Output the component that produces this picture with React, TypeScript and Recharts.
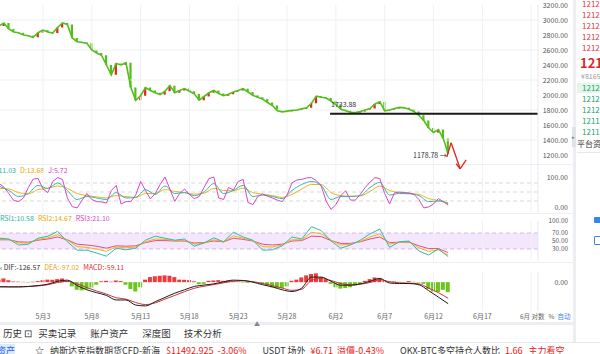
import React from 'react';
import { ComposedChart, LineChart, Line, Bar, XAxis, YAxis, ReferenceLine, ReferenceArea, Cell } from 'recharts';

// x axis: days counted from 5月3, half-day candles
const DATE_TICKS = [0, 5, 10, 15, 20, 25, 30, 35, 40, 45, 50];
const DATE_LABELS = ['5月3', '5月8', '5月13', '5月18', '5月23', '5月28', '6月2', '6月7', '6月12', '6月17', ''];
const X_DOMAIN: [number, number] = [-4.4, 50.7];
const HALF_DAYS = Array.from({ length: 93 }, (_, i) => -4.5 + i * 0.5);

const PRICE_TICKS = [1200, 1400, 1600, 1800, 2000, 2200, 2400, 2600, 2800, 3000, 3200];
const PRICE_GRID = [3000, 2600, 2200, 1800, 1400];
const SUPPORT = 1750;
const SUPPORT_FROM = 29.4;

const PRICE_CLOSE = [
  2920, 2960, 2880, 2840, 2830, 2800, 2790, 2770, 2830, 2865,
  2840, 2825, 2900, 2960, 2940, 2760, 2710, 2700, 2690, 2600,
  2560, 2530, 2400, 2270, 2420, 2400, 2430, 2100, 1930, 1990,
  2100, 2060, 2030, 2005, 2050, 2125, 2030, 2060, 2085, 2050,
  2015, 1930, 1980, 2030, 2060, 2020, 1990, 2010, 2040, 2060,
  2085, 2040, 1995, 1970, 1945, 1900, 1860, 1790, 1775, 1785,
  1795, 1800, 1815, 1830, 1890, 1985, 1970, 1960, 1920, 1870,
  1810, 1790, 1770, 1765, 1780, 1800, 1820, 1880, 1910, 1790,
  1800, 1820, 1835, 1830, 1810, 1780, 1730, 1660, 1560, 1500,
  1540, 1420, 1215,
];

// hand drawn red arrow (day, price)
const ARROW_PATH = [[41.36, 1171], [41.8, 1363], [42.73, 1016]];
const ARROW_HEAD = [[42.32, 1083], [42.73, 1016], [43.34, 1136]];

const KDJ_J = [
  79, 66, 45, 22, 18, 30, 65, 93, 95, 60,
  48, 85, 98, 92, 30, 1, -3, 22, 45, 25,
  18, 17, 13, 55, 72, 10, 18, 18, 40, 85,
  55, 27, 45, 75, 100, 60, 19, 45, 60, 42,
  28, 35, 65, 95, 100, 30, 25, 65, 57, 85,
  92, 15, 8, 35, 43, 36, 30, 23, 18, 40,
  80, 90, 92, 97, 98, 88, 70, 20, -8, 8,
  38, 54, 23, 23, 42, 65, 83, 98, 95, 45,
  10, 47, 50, 48, 47, 42, 25, -3, 0, 10,
  28, 18, 6,
];
// K and D are daily
const KDJ_K = [70, 55, 35, 45, 72, 62, 80, 55, 25, 35, 30, 25, 48, 30, 32, 58, 42, 70, 45, 48, 38, 50, 78, 45, 55, 72, 35, 40, 35, 28, 55, 75, 85, 72, 25, 35, 35, 38, 65, 82, 40, 45, 44, 38, 18, 20, 11];
const KDJ_D = [62, 60, 48, 44, 58, 62, 70, 62, 45, 38, 34, 30, 38, 35, 32, 45, 45, 58, 52, 48, 43, 46, 62, 55, 54, 63, 48, 43, 38, 32, 42, 60, 75, 75, 48, 38, 36, 37, 52, 70, 55, 48, 45, 42, 28, 22, 14];
const KDJ_LINES = [80, 50, 20];

const RSI1 = [57, 55, 40, 42, 57, 62, 74, 48, 27, 27, 20, 12, 32, 28, 32, 52, 62, 57, 52, 55, 37, 45, 58, 48, 72, 60, 52, 27, 28, 38, 60, 55, 86, 76, 50, 32, 40, 52, 68, 80, 34, 48, 50, 25, 15, 30, 11];
const RSI2 = [55, 54, 45, 45, 54, 58, 66, 52, 36, 34, 30, 24, 35, 33, 35, 48, 55, 54, 51, 52, 42, 45, 53, 48, 63, 57, 51, 36, 35, 40, 53, 53, 72, 68, 52, 40, 42, 49, 60, 68, 42, 47, 48, 33, 24, 28, 15];
const RSI3 = [53, 53, 48, 47, 52, 55, 60, 53, 42, 40, 37, 32, 38, 37, 38, 46, 51, 51, 50, 50, 45, 46, 50, 48, 57, 54, 50, 42, 40, 42, 50, 51, 62, 61, 51, 44, 44, 48, 55, 60, 46, 47, 47, 38, 31, 31, 21];

const MACD_HIST = [
  15, 22, 12, 4, 3, 2, -3, 2, 6, 12,
  15, 14, 18, 22, 8, -25, -45, -48, -40, -32,
  -15, 5, 8, 3, 10, 6, -15, -40, -55, -30,
  15, 30, 35, 38, 40, 38, 30, 15, 14, 12,
  5, -12, -10, 8, 10, 12, 8, 10, 6, 3,
  -3, -5, 2, -3, -10, -20, -30, -35, -35, -25,
  8, 15, 28, 40, 48, 52, 30, 18, -10, -30,
  -38, -35, -30, -20, -12, 8, 18, 28, 25, 6,
  3, 4, 2, -2, 6, 2, -3, -10, -40, -55,
  -58, -45, -59,
];
const DIF = [-28, -28, -28, -25, -20, -12, 5, 12, -20, -45, -62, -78, -105, -105, -135, -140, -115, -90, -65, -45, -25, -17, -10, 2, 12, 10, 0, -15, -28, -45, -55, -35, 30, 30, 5, -18, -18, -10, 5, 22, -5, -8, -8, -15, -50, -88, -127];
const DEA = [-25, -27, -27, -26, -22, -15, -2, 5, -10, -32, -52, -70, -92, -100, -120, -132, -122, -100, -78, -56, -36, -24, -14, -4, 6, 8, 3, -8, -20, -35, -48, -42, 10, 22, 10, -8, -15, -12, -2, 14, 3, -4, -6, -10, -35, -62, -95];

const ASKS = ['1212.7', '1212.5', '1212.4', '1212.3', '1212.3'];
const BIDS = ['1212.2', '1212.1', '1212.0', '1211.8', '1211.7'];

const RED = '#e5231b';
const GREEN = '#52bf1a';
const GRID = '#eef1f5';
const FONT = '"Noto Sans CJK SC", "Noto Sans", sans-serif';

const priceRows = HALF_DAYS.map((d, i) => {
  const c = PRICE_CLOSE[i];
  const o = i > 0 ? PRICE_CLOSE[i - 1] : c;
  return { d, close: c, body: [Math.min(o, c), Math.max(o, c)], up: c >= o };
});
const daily = (arr: number[], i: number) => (i % 2 === 0 ? arr[i / 2] : undefined);
const kdjRows = HALF_DAYS.map((d, i) => ({ d, j: KDJ_J[i], k: daily(KDJ_K, i), dd: daily(KDJ_D, i) }));
const rsiRows = HALF_DAYS.filter((_, i) => i % 2 === 0).map((d, i) => ({ d, r1: RSI1[i], r2: RSI2[i], r3: RSI3[i] }));
const macdRows = HALF_DAYS.map((d, i) => ({ d, hist: MACD_HIST[i], dif: daily(DIF, i), dea: daily(DEA, i) }));

const Candle = (p: any) => {
  const { x, y, width, height, payload } = p;
  if (x == null || y == null) return null;
  const top = height < 0 ? y + height : y;
  const h = Math.max(Math.abs(height || 0), 1);
  return <rect x={x + width / 2 - 1} y={top} width={2.2} height={h} fill={payload.up ? RED : GREEN} />;
};

const RightTick = (p: any) => (
  <text x={568} y={p.y} dy={2.5} textAnchor="end" fontSize={7} fill="#555" fontFamily={FONT}>
    {Number(p.payload.value).toFixed(2)}
  </text>
);
const SmallTick = (p: any) => (
  <text x={568} y={p.y} dy={2.2} textAnchor="end" fontSize={6.4} fill="#555" fontFamily={FONT}>
    {Number(p.payload.value).toFixed(2)}
  </text>
);

const DateTick = (p: any) => {
  const idx = DATE_TICKS.indexOf(p.payload.value);
  return (
    <text x={p.x} y={p.y} dy={0} textAnchor="middle" fontSize={7} fill="#666" fontFamily={FONT}>
      {DATE_LABELS[idx]}
    </text>
  );
};

const vGrid = () => DATE_TICKS.map(t => <ReferenceLine key={'g' + t} x={t} stroke={GRID} ifOverflow="hidden" />);

const abs = (left: number, top: number): React.CSSProperties => ({ position: 'absolute', left, top });

export default function App() {
  const segs = (pts: number[][], key: string) =>
    pts.slice(1).map((pt, i) => (
      <ReferenceLine
        key={key + i}
        segment={[{ x: pts[i][0], y: pts[i][1] }, { x: pt[0], y: pt[1] }]}
        stroke={RED}
        strokeWidth={1.3}
        ifOverflow="visible"
      />
    ));

  return (
    <div style={{ position: 'absolute', left: 0, top: 0, width: 600, height: 354, overflow: 'hidden', background: '#fff', fontFamily: FONT }}>
      {/* panel separators */}
      {[164, 213, 262].map(y => (
        <div key={y} style={{ ...abs(0, y), width: 573, height: 1, background: '#edf0f3' }} />
      ))}

      {/* price panel */}
      <div style={abs(0, 0)}>
        <ComposedChart width={580} height={170} data={priceRows} margin={{ top: 5, right: 0, bottom: 0, left: 0 }}>
          <XAxis dataKey="d" type="number" domain={X_DOMAIN} ticks={DATE_TICKS} allowDataOverflow hide />
          <YAxis orientation="right" width={42} domain={[1000, 3200]} ticks={PRICE_TICKS} interval={0} allowDataOverflow tick={RightTick} tickLine={false} axisLine={{ stroke: '#e6e9ee' }} />
          {vGrid()}
          {PRICE_GRID.map(v => <ReferenceLine key={v} y={v} stroke={GRID} />)}
          <Line dataKey="close" stroke={GREEN} strokeWidth={1.6} dot={false} isAnimationActive={false} />
          <Bar dataKey="body" barSize={2} shape={Candle} isAnimationActive={false} />
          <ReferenceLine segment={[{ x: SUPPORT_FROM, y: SUPPORT }, { x: X_DOMAIN[1], y: SUPPORT }]} stroke="#1a1a1a" strokeWidth={2} />
          {segs(ARROW_PATH, 'a')}
          {segs(ARROW_HEAD, 'h')}
        </ComposedChart>
      </div>
      <span style={{ ...abs(331, 99), fontSize: 7, color: '#333' }}>1733.88</span>
      <span style={{ ...abs(413, 150), fontSize: 7, color: '#333' }}>1178.78 →</span>

      {/* KDJ */}
      <div style={{ ...abs(-8, 165), fontSize: 7, whiteSpace: 'nowrap', lineHeight: '10px' }}>
        <span style={{ color: '#22b5a5' }}>K:11.03</span>
        <span style={{ color: '#f0a500', marginLeft: 4 }}>D:13.68</span>
        <span style={{ color: '#d63fc6', marginLeft: 4 }}>J:5.72</span>
      </div>
      <div style={abs(0, 171)}>
        <LineChart width={580} height={42} data={kdjRows} margin={{ top: 0, right: 0, bottom: 0, left: 0 }}>
          <XAxis dataKey="d" type="number" domain={X_DOMAIN} ticks={DATE_TICKS} allowDataOverflow hide />
          <YAxis orientation="right" width={42} domain={[-20, 120]} ticks={[0, 100]} interval={0} allowDataOverflow tick={RightTick} tickLine={false} axisLine={{ stroke: '#e6e9ee' }} />
          {vGrid()}
          {KDJ_LINES.map(v => <ReferenceLine key={v} y={v} stroke="#d9d9d9" strokeDasharray="4 3" />)}
          <Line dataKey="dd" stroke="#f2b21c" strokeWidth={1} dot={false} connectNulls type="monotone" isAnimationActive={false} />
          <Line dataKey="k" stroke="#2dbdaa" strokeWidth={1} dot={false} connectNulls type="monotone" isAnimationActive={false} />
          <Line dataKey="j" stroke="#d946c8" strokeWidth={1} dot={false} isAnimationActive={false} />
        </LineChart>
      </div>

      {/* RSI */}
      <div style={{ ...abs(0, 213), fontSize: 7, whiteSpace: 'nowrap', lineHeight: '10px' }}>
        <span style={{ color: '#22b5a5' }}>RSI1:10.58</span>
        <span style={{ color: '#f0a500', marginLeft: 4 }}>RSI2:14.67</span>
        <span style={{ color: '#d63fc6', marginLeft: 4 }}>RSI3:21.10</span>
      </div>
      <div style={abs(0, 214)}>
        <LineChart width={580} height={48} data={rsiRows} margin={{ top: 7, right: 0, bottom: 1, left: 0 }}>
          <XAxis dataKey="d" type="number" domain={X_DOMAIN} ticks={DATE_TICKS} allowDataOverflow hide />
          <YAxis orientation="right" width={42} domain={[0, 100]} ticks={[30, 50, 70, 100]} interval={0} allowDataOverflow tick={SmallTick} tickLine={false} axisLine={{ stroke: '#e6e9ee' }} />
          <ReferenceArea y1={30} y2={70} fill="#f4e6fb" fillOpacity={1} stroke="none" />
          {vGrid()}
          <ReferenceLine y={70} stroke="#d7b7e6" strokeDasharray="4 3" />
          <ReferenceLine y={30} stroke="#d7b7e6" strokeDasharray="4 3" />
          <Line dataKey="r3" stroke="#e2507e" strokeWidth={1} dot={false} isAnimationActive={false} />
          <Line dataKey="r2" stroke="#f2b21c" strokeWidth={1} dot={false} isAnimationActive={false} />
          <Line dataKey="r1" stroke="#2dbdaa" strokeWidth={1} dot={false} isAnimationActive={false} />
        </LineChart>
      </div>

      {/* MACD */}
      <div style={{ ...abs(0, 262), fontSize: 7, whiteSpace: 'nowrap', lineHeight: '10px' }}>
        <span style={{ color: '#333' }}>‹ DIF:-126.57</span>
        <span style={{ color: '#f0a020', marginLeft: 4 }}>DEA:-97.02</span>
        <span style={{ color: '#e03030', marginLeft: 4 }}>MACD:-59.11</span>
      </div>
      <div style={abs(0, 272)}>
        <ComposedChart width={580} height={51} data={macdRows} margin={{ top: 0, right: 0, bottom: 0, left: 0 }}>
          <XAxis dataKey="d" type="number" domain={X_DOMAIN} ticks={DATE_TICKS} interval={0} allowDataOverflow height={12} tick={DateTick} tickLine={false} axisLine={false} />
          <YAxis orientation="right" width={42} domain={[-170, 60]} ticks={[0]} interval={0} allowDataOverflow tick={RightTick} tickLine={false} axisLine={{ stroke: '#e6e9ee' }} />
          {vGrid()}
          <Bar dataKey="hist" barSize={4} isAnimationActive={false}>
            {macdRows.map((r, i) => <Cell key={i} fill={r.hist >= 0 ? '#ee3a3a' : '#6cc51c'} />)}
          </Bar>
          <Line dataKey="dea" stroke="#c9343c" strokeWidth={1} dot={false} connectNulls type="monotone" isAnimationActive={false} />
          <Line dataKey="dif" stroke="#1c1c1c" strokeWidth={1} dot={false} connectNulls type="monotone" isAnimationActive={false} />
        </ComposedChart>
      </div>
      <div style={{ ...abs(520, 311), fontSize: 6.5, whiteSpace: 'nowrap', lineHeight: '10px', color: '#666' }}>
        6月 对数<span style={{ marginLeft: 4 }}>%</span><span style={{ marginLeft: 3, color: '#3b82f6' }}>自动</span>
      </div>

      {/* bottom bars */}
      <div style={{ ...abs(0, 322), width: 574, height: 3, background: '#eceef1' }} />
      <div style={{ ...abs(254, 321), fontSize: 6, color: '#888', lineHeight: '6px' }}>▲</div>
      <div style={{ ...abs(0, 326), fontSize: 9.5, color: '#333', whiteSpace: 'nowrap', lineHeight: '14px' }}>
        <span style={{ marginLeft: 3 }}>历史 ⊡</span>
        <span style={{ marginLeft: 6 }}>买卖记录</span>
        <span style={{ marginLeft: 14 }}>账户资产</span>
        <span style={{ marginLeft: 14 }}>深度图</span>
        <span style={{ marginLeft: 13 }}>技术分析</span>
      </div>
      <div style={{ ...abs(0, 342), width: 600, height: 1, background: '#e6e8eb' }} />
      <div style={{ ...abs(0, 345), fontSize: 9, color: '#333', whiteSpace: 'nowrap', lineHeight: '12px' }}>
        <span style={{ background: '#dbeafe', color: '#2563eb', marginLeft: -3 }}>资产</span>
        <span style={{ marginLeft: 20 }}>☆</span>
        <span style={{ marginLeft: 6 }}>纳斯达克指数期货CFD-新海</span>
        <span style={{ marginLeft: 6, color: RED }}>$11492.925</span>
        <span style={{ marginLeft: 4, color: RED }}>-3.06%</span>
        <span style={{ marginLeft: 16 }}>USDT 场外</span>
        <span style={{ marginLeft: 5, color: RED }}>¥6.71</span>
        <span style={{ marginLeft: 4, color: RED }}>溢價-0.43%</span>
        <span style={{ marginLeft: 16 }}>OKX-BTC多空持仓人数比</span>
        <span style={{ marginLeft: 5, color: RED }}>1.66</span>
        <span style={{ marginLeft: 6, color: RED }}>主力看空</span>
        <span style={{ marginLeft: 100, color: '#666' }}>令 检</span>
      </div>

      {/* right order book panel */}
      <div style={{ ...abs(573, 0), width: 3, height: 342, background: '#eceef1' }} />
      <div style={{ ...abs(572, 127), width: 4, height: 20, background: '#dfe2e6', fontSize: 5, color: '#777', lineHeight: '20px' }}>▸</div>
      {ASKS.map((v, i) => (
        <div key={'a' + i} style={{ ...abs(582, -1 + i * 11), fontSize: 8, color: '#e0393e', lineHeight: '10px' }}>{v}</div>
      ))}
      <div style={{ ...abs(580, 55), fontSize: 13, fontWeight: 700, color: '#d9272e', lineHeight: '15px' }}>1212.3</div>
      <div style={{ ...abs(581, 72), fontSize: 7, color: '#999', lineHeight: '9px' }}>¥8165.6</div>
      <div style={{ ...abs(577, 83), width: 23, height: 10, background: '#e3f6ec' }} />
      {BIDS.map((v, i) => (
        <div key={'b' + i} style={{ ...abs(582, 83 + i * 11), fontSize: 8, color: '#1aa36a', lineHeight: '10px' }}>{v}</div>
      ))}
      <div style={{ ...abs(577, 139), fontSize: 8, color: '#333', lineHeight: '10px', whiteSpace: 'nowrap' }}>平台资产</div>
      <div style={{ ...abs(577, 152), width: 23, height: 1, background: '#e6e8eb' }} />
      <div style={{ ...abs(594, 217), width: 8, height: 6, background: '#3b82f6', borderRadius: 1 }} />
      <div style={{ ...abs(594, 236), width: 8, height: 7, border: '1px solid #3b82f6', borderRadius: 1 }} />
    </div>
  );
}
